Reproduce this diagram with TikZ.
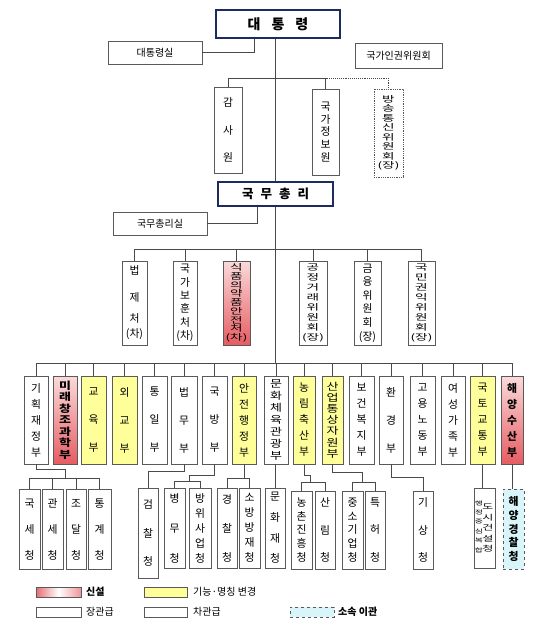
\documentclass[tikz,border=0pt]{standalone}
\usepackage{fontspec}
\setmainfont{Noto Sans CJK KR}
\newfontfamily\krw[FakeStretch=1.6]{Noto Sans CJK KR}
\newfontfamily\krm[FakeStretch=1.3]{Noto Sans CJK KR}
\usetikzlibrary{calc}
\definecolor{navy}{HTML}{1E2B5E}
\definecolor{bgray}{HTML}{5A5A5A}
\definecolor{lgray}{HTML}{4A4A4A}
\definecolor{yel}{HTML}{FFFF99}
\definecolor{ptop}{HTML}{FBDADA}
\definecolor{pbot}{HTML}{E65C62}
\definecolor{cy}{HTML}{D8F6FA}
\begin{document}
\begin{tikzpicture}[x=1pt,y=-1pt,
 bx/.style={draw=bgray, line width=0.8pt, fill=white, inner sep=0pt, align=center, text=black},
 sz/.style 2 args={minimum width=#1pt, minimum height=#2pt},
 lsp/.style={font=\fontsize{10.8}{#1}\selectfont},
 lspb/.style={font=\fontsize{10.8}{#1}\selectfont\bfseries},
 cz/.style 2 args={font=\krw\fontsize{#1}{#2}\selectfont},
 cm/.style 2 args={font=\krm\fontsize{#1}{#2}\selectfont},
 cmb/.style 2 args={font=\krm\fontsize{#1}{#2}\selectfont\bfseries},
 yb/.style={fill=yel},
 pk/.style={top color=ptop, bottom color=pbot},
 big/.style={draw=navy, line width=2.4pt, fill=white, inner sep=0pt},
 ln/.style={draw=lgray, line width=0.9pt},
 lab/.style={anchor=west, inner sep=0pt, font=\fontsize{10}{12}\selectfont},
 ]
\useasboundingbox[fill=white] (0,0) rectangle (550,629);

% ---- top level
\node[big, sz={124}{28}, font=\fontsize{14}{16}\selectfont\bfseries] (pres) at (278,24) {대\hspace{11pt}통\hspace{11pt}령};
\node[bx, sz={94}{23}, font=\fontsize{10}{12}\selectfont] (psec) at (155,52.5) {대통령실};
\node[bx, sz={87}{25}, font=\fontsize{10}{12}\selectfont] (nhrc) at (398.5,55.5) {국가인권위원회};
\node[bx, sz={28}{86}, lsp=27.5] (gamsa) at (228,130) {감\\사\\원};
\node[bx, sz={27}{86}, lsp=12.6] (nis) at (325.5,132) {국\\가\\정\\보\\원};
\node[bx, draw=bgray, densely dotted, sz={29}{88}, cz={8.5}{9.5}] (bang) at (388.5,133) {방\\송\\통\\신\\위\\원\\회\\(장)};

% ---- prime minister
\node[big, sz={115}{24}, font=\fontsize{12.5}{14}\selectfont\bfseries] (pm) at (275.5,194) {국\hspace{7pt}무\hspace{7pt}총\hspace{7pt}리};
\node[bx, sz={94}{23}, font=\fontsize{10}{12}\selectfont] (pmsec) at (160,223.5) {국무총리실};

\node[bx, sz={25}{84}, lsp=15] (c1) at (134.5,303) {법\\[12pt]제\\[6pt]처\\(차)};
\node[bx, sz={24}{84}, lsp=13.4] (c2) at (185,303) {국\\가\\보\\훈\\처\\(차)};
\node[bx, pk, sz={27}{84}, cz={8.5}{8.75}] (c3) at (236.5,303) {식\\품\\의\\약\\품\\안\\전\\처\\(차)};
\node[bx, sz={28}{84}, cz={8.5}{10}] (c4) at (313,303) {공\\정\\거\\래\\위\\원\\회\\(장)};
\node[bx, sz={27}{84}, lsp=13.6] (c5) at (367.5,303) {금\\융\\위\\원\\회\\(장)};
\node[bx, sz={27}{84}, cz={8.5}{10}] (c6) at (421.5,303) {국\\민\\권\\익\\위\\원\\회\\(장)};

% ---- ministries
\node[bx, sz={24}{88}, lsp=16] (m1) at (36,420) {기\\획\\재\\정\\부};
\node[bx, pk, sz={24}{88}, cmb={10}{11.5}] (m2) at (65,420) {미\\래\\창\\조\\과\\학\\부};
\node[bx, yb, sz={25}{88}, lsp=28] (m3) at (93.5,420) {교\\육\\부};
\node[bx, yb, sz={25}{88}, lsp=28] (m4) at (124.5,420) {외\\교\\부};
\node[bx, sz={25}{88}, lsp=28] (m5) at (154.5,420) {통\\일\\부};
\node[bx, sz={26}{88}, lsp=28] (m6) at (184,420) {법\\무\\부};
\node[bx, sz={25}{88}, lsp=28] (m7) at (214.5,420) {국\\방\\부};
\node[bx, yb, sz={24}{88}, lsp=16] (m8) at (244,420) {안\\전\\행\\정\\부};
\node[bx, sz={24}{88}, cm={10}{12}] (m9) at (276,420) {문\\화\\체\\육\\관\\광\\부};
\node[bx, yb, sz={22}{88}, lsp=16] (m10) at (304,420) {농\\림\\축\\산\\부};
\node[bx, yb, sz={21}{88}, cm={10}{11.2}] (m11) at (332.5,420) {산\\업\\통\\상\\자\\원\\부};
\node[bx, sz={25}{88}, lsp=16] (m12) at (361.5,420) {보\\건\\복\\지\\부};
\node[bx, sz={24}{88}, lsp=28] (m13) at (391,420) {환\\경\\부};
\node[bx, sz={25}{88}, lsp=16] (m14) at (422.5,420) {고\\용\\노\\동\\부};
\node[bx, sz={24}{88}, lsp=16] (m15) at (453,420) {여\\성\\가\\족\\부};
\node[bx, yb, sz={25}{88}, lsp=16] (m16) at (482.5,420) {국\\토\\교\\통\\부};
\node[bx, pk, sz={22}{88}, lspb=16] (m17) at (512,420) {해\\양\\수\\산\\부};

% ---- agencies
\node[bx, sz={21}{80}, lsp=26] (a1) at (29.5,529.5) {국\\세\\청};
\node[bx, sz={21}{80}, lsp=26] (a2) at (52.5,529.5) {관\\세\\청};
\node[bx, sz={20}{80}, lsp=26] (a3) at (76,529.5) {조\\달\\청};
\node[bx, sz={23}{80}, lsp=26] (a4) at (99.5,529.5) {통\\계\\청};
\node[bx, sz={20}{90}, lsp=28.5] (a5) at (148,533) {검\\찰\\청};
\node[bx, sz={21}{80}, lsp=30] (a6) at (174.5,528) {병\\무\\청};
\node[bx, sz={22}{80}, lsp=15] (a7) at (200,528) {방\\위\\사\\업\\청};
\node[bx, sz={20}{80}, lsp=29] (a8) at (227,528) {경\\찰\\청};
\node[bx, sz={21}{80}, lsp=15] (a9) at (249.5,528) {소\\방\\방\\재\\청};
\node[bx, sz={20}{80}, lsp=20.7] (a10) at (275,528) {문\\화\\재\\청};
\node[bx, sz={21}{78}, lsp=13.75] (a11) at (301.5,530) {농\\촌\\진\\흥\\청};
\node[bx, sz={20}{78}, lsp=27.5] (a12) at (325,530) {산\\림\\청};
\node[bx, sz={21}{78}, lsp=13.75] (a13) at (352.5,530) {중\\소\\기\\업\\청};
\node[bx, sz={20}{78}, lsp=27.5] (a14) at (375,530) {특\\허\\청};
\node[bx, sz={20}{78}, lsp=27.5] (a15) at (423,530) {기\\상\\청};
\node[bx, sz={21}{80}] (a16) at (484.5,528) {};
\node[inner sep=0pt, align=center, cz={5.5}{9.4}] (a16l) at (479,526.5) {행\\정\\중\\심\\복\\합};
\node[inner sep=0pt, align=center, cz={7.5}{10.5}] (a16r) at (488,528) {도\\시\\건\\설\\청};
\node[bx, draw=bgray, dashed, fill=cy, sz={21}{80}, lspb=13.75] (a17) at (513.5,529) {해\\양\\경\\찰\\청};

% ---- connectors
\coordinate (mx) at (275,0);
\coordinate (pj) at (254,0);
\coordinate (pmj) at (257,0);
\coordinate (tb) at (0,78);
\coordinate (cb) at (0,249);
\coordinate (MB) at (0,363);
\draw[ln] (psec.east) -| (pj |- pres.south);
\draw[ln] (mx |- pres.south) -- (mx |- pm.north);
\draw[ln] (gamsa.north) -- (gamsa.north |- tb) -- (nis.north |- tb) -- (nis.north);
\draw[ln, densely dotted] (nis.north |- tb) -- (bang.north |- tb) -- (bang.north);
\draw[ln] (pmsec.east) -| (pmj |- pm.south);
\draw[ln] (c1.north |- cb) -- (c6.north |- cb);
\foreach \n in {c1,c2,c3,c4,c5,c6} \draw[ln] (\n.north |- cb) -- (\n.north);
\draw[ln] (mx |- pm.south) -- (mx |- MB);
\draw[ln] (m1.north |- MB) -- (m17.north |- MB);
\foreach \n in {m1,m2,m3,m4,m5,m6,m7,m8,m9,m10,m11,m12,m13,m14,m15,m16,m17} \draw[ln] (\n.north |- MB) -- (\n.north);

% 기획재정부
\coordinate (k1) at (65,469);
\coordinate (k1b) at (0,478);
\draw[ln] (m1.south) |- (k1) -- (k1 |- k1b);
\draw[ln] (a1.north |- k1b) -- (a4.north |- k1b);
\foreach \n in {a1,a2,a3,a4} \draw[ln] (\n.north |- k1b) -- (\n.north);
% 법무부
\coordinate (k2) at (0,471);
\draw[ln] (m6.south) -- (m6.south |- k2) -- (a5.north |- k2) -- (a5.north);
% 국방부
\coordinate (k3) at (189,475);
\coordinate (k3b) at (0,481);
\draw[ln] (m7.south) |- (k3) -- (k3 |- k3b);
\draw[ln] (a6.north |- k3b) -- (a7.north |- k3b);
\foreach \n in {a6,a7} \draw[ln] (\n.north |- k3b) -- (\n.north);
% 안전행정부
\coordinate (k4b) at (0,478);
\draw[ln] (m8.south) -- (m8.south |- k4b);
\draw[ln] (a8.north |- k4b) -- (a9.north |- k4b);
\foreach \n in {a8,a9} \draw[ln] (\n.north |- k4b) -- (\n.north);
% 문화체육관광부
\draw[ln] (a10.north |- m9.south) -- (a10.north);
% 농림축산부
\coordinate (k5) at (310,475);
\coordinate (k5b) at (0,482);
\draw[ln] (m10.south) |- (k5) -- (k5 |- k5b);
\draw[ln] (a11.north |- k5b) -- (a12.north |- k5b);
\foreach \n in {a11,a12} \draw[ln] (\n.north |- k5b) -- (\n.north);
% 산업통상자원부
\coordinate (k6) at (362,472);
\draw[ln] (m11.south) |- (k6) -- (k6 |- k5b);
\draw[ln] (a13.north |- k5b) -- (a14.north |- k5b);
\foreach \n in {a13,a14} \draw[ln] (\n.north |- k5b) -- (\n.north);
% 환경부
\coordinate (k7) at (0,477);
\draw[ln] (m13.south) -- (m13.south |- k7) -- (a15.north |- k7) -- (a15.north);
% 국토교통부, 해양수산부
\draw[ln] (m16.south) -- (m16.south |- a16.north);
\draw[ln] (m17.south) -- (m17.south |- a17.north);

% ---- legend
\node[draw=bgray, line width=0.8pt, inner sep=0pt, sz={45}{10}, left color=pbot!90, right color=pbot!65, middle color=white] (lg1) at (58.5,592) {};
\node[lab, font=\fontsize{10}{12}\selectfont\bfseries] (lt1) at (86,592) {신설};
\node[draw=bgray, line width=0.8pt, inner sep=0pt, sz={43}{10}, fill=yel] (lg2) at (165.5,592) {};
\node[lab] (lt2) at (193,592) {기능·명칭 변경};
\node[draw=bgray, line width=0.8pt, inner sep=0pt, sz={45}{10}, fill=white] (lg3) at (58.5,612) {};
\node[lab] (lt3) at (86,612) {장관급};
\node[draw=bgray, line width=0.8pt, inner sep=0pt, sz={43}{10}, fill=white] (lg4) at (165.5,612) {};
\node[lab] (lt4) at (193,612) {차관급};
\node[draw=bgray, line width=0.8pt, dashed, inner sep=0pt, sz={44}{10}, fill=cy] (lg5) at (312,612) {};
\node[lab, font=\fontsize{10}{12}\selectfont\bfseries] (lt5) at (338,612) {소속 이관};
\end{tikzpicture}
\end{document}
